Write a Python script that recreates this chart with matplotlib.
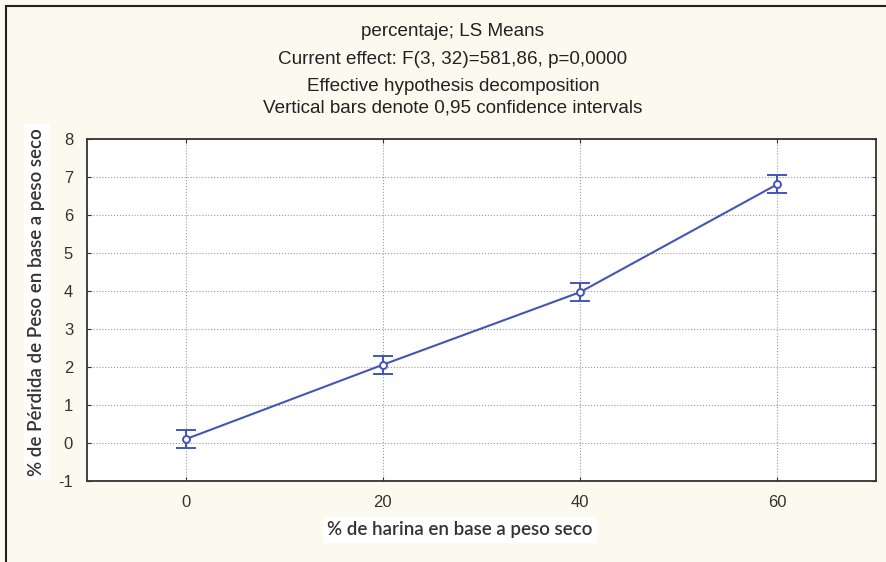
import matplotlib.pyplot as plt
from matplotlib.patches import Rectangle

plt.rcParams["axes.unicode_minus"] = False

harina = [0, 20, 40, 60]
perdida = [0.10, 2.06, 3.97, 6.81]
ic95 = [0.24, 0.24, 0.24, 0.23]

titulo = ["percentaje; LS Means",
          "Current effect: F(3, 32)=581,86, p=0,0000",
          "Effective hypothesis decomposition",
          "Vertical bars denote 0,95 confidence intervals"]

azul = "#4356B8"

fig = plt.figure(figsize=(8.87, 5.62), dpi=100, facecolor="#FCF9EF")
ax = fig.add_axes([87 / 887, 1 - 481 / 562, (876 - 87) / 887, (481 - 139) / 562])
ax.set_facecolor("white")

ax.errorbar(harina, perdida, yerr=ic95, color=azul, lw=1.5, capsize=7.5,
            capthick=1.5, marker="o", ms=5, mfc="white", mec=azul, mew=1.4)

ax.set_xlim(-10, 70)
ax.set_ylim(-1, 8)
ax.set_xticks(harina)
ax.set_yticks(range(-1, 9))
ax.grid(True, ls=":", color="#9a9a9a", lw=0.8)
ax.tick_params(direction="in", length=3, top=True, right=True,
               labelsize=12, colors="#333333", pad=10)
for lab in ax.get_xticklabels() + ax.get_yticklabels():
    lab.set_family("Liberation Sans")
for s in ax.spines.values():
    s.set_linewidth(1.3)
    s.set_color("#333333")

ys = [32, 60, 86, 108]
for t, y in zip(titulo, ys):
    fig.text(453 / 887, 1 - y / 562, t, ha="center", va="center",
             fontsize=13.6, family="Liberation Sans", color="#222222")

fig.text(460 / 887, 1 - 530 / 562, "% de harina en base a peso seco",
         ha="center", va="center", fontsize=13.5, family="Lato",
         weight="semibold", color="#333333",
         bbox=dict(facecolor="white", edgecolor="none", pad=3))
fig.text(37 / 887, 1 - 302 / 562, "% de Pérdida de Peso en base a peso seco",
         ha="center", va="center", rotation=90, fontsize=13.5, family="Lato",
         weight="semibold", color="#333333",
         bbox=dict(facecolor="white", edgecolor="none", pad=3))

fig.patches.append(Rectangle((6 / 887, -0.1), 1.2, 1.1 - 6 / 562,
                             transform=fig.transFigure, fill=False,
                             edgecolor="#222222", lw=1.5))

fig.savefig("out.png", dpi=100, facecolor=fig.get_facecolor())
